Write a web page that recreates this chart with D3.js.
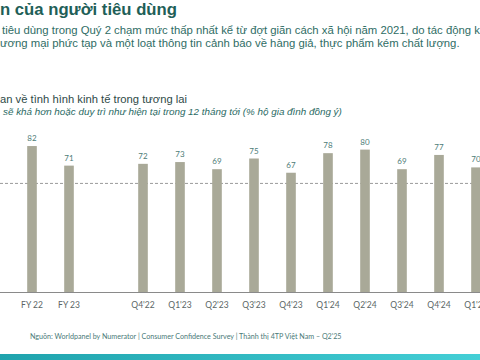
<!DOCTYPE html>
<html><head><meta charset="utf-8">
<script src="https://cdn.jsdelivr.net/npm/d3@7"></script>
<style>html,body{margin:0;padding:0;background:#fff;overflow:hidden}</style>
</head><body>
<script>
const categories = ["FY 22","FY 23","gap","Q4'22","Q1'23","Q2'23","Q3'23","Q4'23","Q1'24","Q2'24","Q3'24","Q4'24","Q1'25"];
const values = [82,71,null,72,73,69,75,67,78,80,69,77,70];
const refValue = 61;
const titleText = "n của người tiêu dùng";
const paraLines = ["tiêu dùng trong Quý 2 chạm mức thấp nhất kể từ đợt giãn cách xã hội năm 2021, do tác động kế",
                   "ương mại phức tạp và một loạt thông tin cảnh báo về hàng giả, thực phẩm kém chất lượng."];
const subLine1 = "an về tình hình kinh tế trong tương lai";
const subLine2 = "sẽ khá hơn hoặc duy trì như hiện tại trong 12 tháng tới (% hộ gia đình đồng ý)";
const footer = "Nguồn: Worldpanel by Numerator | Consumer Confidence Survey | Thành thị 4TP Việt Nam – Q2'25";

const W = 480, H = 360;
const svg = d3.select("body").append("svg").attr("width", W).attr("height", H);

function fit(sel, target) {
  const n = sel.node();
  const fs = parseFloat(sel.attr("font-size"));
  const w = n.getComputedTextLength();
  sel.attr("font-size", (fs * target / w).toFixed(2));
}

// Title
const t = svg.append("text").attr("x", 0).attr("y", 15).attr("font-family", "Liberation Sans, Arial, sans-serif")
  .attr("font-weight", "bold").attr("font-size", 17).attr("fill", "#1f5f58").text(titleText);
fit(t, 177);

// Paragraph
const p2 = svg.append("text").attr("x", 0).attr("y", 47).attr("font-family", "Liberation Sans, Arial, sans-serif")
  .attr("font-size", 11).attr("fill", "#2f6d65").text(paraLines[1]);
fit(p2, 460);
svg.append("text").attr("x", 2).attr("y", 34).attr("font-family", "Liberation Sans, Arial, sans-serif")
  .attr("font-size", p2.attr("font-size")).attr("fill", "#2f6d65").text(paraLines[0]);

// Subtitle
const s1 = svg.append("text").attr("x", 0).attr("y", 103).attr("font-family", "Liberation Sans, Arial, sans-serif")
  .attr("font-size", 10.5).attr("fill", "#2e4a47").text(subLine1);
fit(s1, 187);
const s2 = svg.append("text").attr("x", 3).attr("y", 115).attr("font-family", "Liberation Sans, Arial, sans-serif")
  .attr("font-style", "italic").attr("font-size", 10).attr("fill", "#2a6a64").text(subLine2);
fit(s2, 339);

// Scales
const x = d3.scaleBand().domain(categories).range([13.5, 13.5 + 37 * categories.length])
  .paddingInner(0.74).paddingOuter(0.37);
const y = d3.scaleLinear().domain([0, 100]).range([292, 114]);

// Reference dashed line
svg.append("line").attr("x1", 0).attr("x2", W).attr("y1", y(refValue)).attr("y2", y(refValue))
  .attr("stroke", "#9a9a9a").attr("stroke-width", 1).attr("stroke-dasharray", "3,2");

const data = categories.map((c, i) => ({c, v: values[i]})).filter(d => d.v != null);

svg.selectAll("rect.bar").data(data).enter().append("rect").attr("class", "bar")
  .attr("x", d => x(d.c)).attr("width", x.bandwidth())
  .attr("y", d => y(d.v)).attr("height", d => y(0) - y(d.v))
  .attr("fill", "#a9a998");

svg.selectAll("text.val").data(data).enter().append("text").attr("class", "val")
  .attr("x", d => x(d.c) + x.bandwidth() / 2).attr("y", d => y(d.v) - 5)
  .attr("text-anchor", "middle").attr("font-family", "Lato, sans-serif").attr("font-size", 8)
  .attr("fill", "#4d7c77").text(d => d.v);

// X axis
const xAxis = svg.append("g").attr("transform", `translate(0,${y(0)})`)
  .call(d3.axisBottom(x).tickSize(0).tickPadding(10).tickFormat(d => d === "gap" ? "" : d));
xAxis.select(".domain").remove();
xAxis.selectAll("text").attr("font-family", "Lato, sans-serif").attr("font-size", 8.5).attr("fill", "#5b6666");
svg.append("line").attr("x1", 0).attr("x2", W).attr("y1", y(0) + 0.5).attr("y2", y(0) + 0.5)
  .attr("stroke", "#8a8a8a").attr("stroke-width", 1);

// Footer
const f = svg.append("text").attr("x", 30).attr("y", 339).attr("font-family", "Lato, sans-serif")
  .attr("font-size", 7.5).attr("fill", "#4a7a78").text(footer);
fit(f, 312);

// Bottom teal band
const grad = svg.append("defs").append("linearGradient").attr("id", "band").attr("x1", 0).attr("x2", 1);
grad.append("stop").attr("offset", "0").attr("stop-color", "#1fa3ad");
grad.append("stop").attr("offset", "1").attr("stop-color", "#44cfd6");
svg.append("rect").attr("x", 0).attr("y", 354).attr("width", W).attr("height", 6).attr("fill", "url(#band)");
</script>
</body></html>
